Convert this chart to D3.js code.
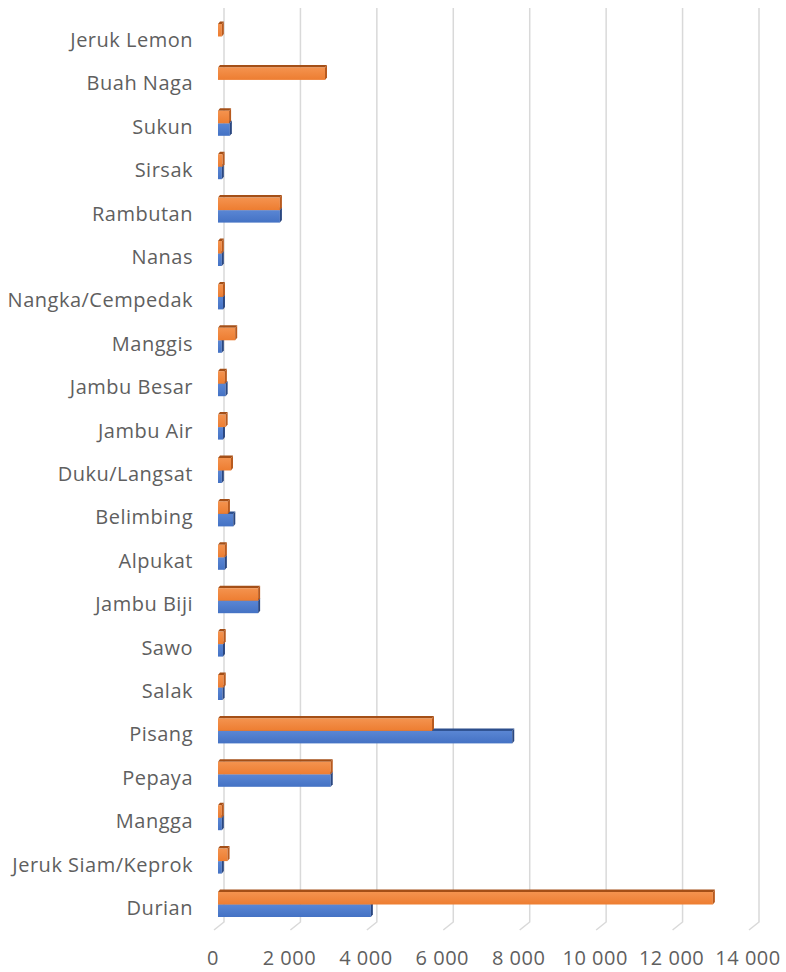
<!DOCTYPE html>
<meta charset="utf-8">
<style>
body { margin: 0; background: #fff; }
svg { display: block; }
.lbl text { font: 20px "Open Sans", sans-serif; fill: #5f5f5f; letter-spacing: 0.5px; }
</style>
<body>
<script src="https://d3js.org/d3.v7.min.js"></script>
<script>
// categories, bottom to top as in the picture
var categories = ["Durian", "Jeruk Siam/Keprok", "Mangga", "Pepaya", "Pisang", "Salak", "Sawo",
  "Jambu Biji", "Alpukat", "Belimbing", "Duku/Langsat", "Jambu Air", "Jambu Besar", "Manggis",
  "Nangka/Cempedak", "Nanas", "Rambutan", "Sirsak", "Sukun", "Buah Naga", "Jeruk Lemon"];

var blueValues =   [4000, 100, 100, 2950, 7700, 120, 130, 1050, 180, 400, 100, 130, 200, 100, 130, 100, 1620, 100, 310, 0, 0];
var orangeValues = [12950, 250, 100, 2950, 5600, 150, 150, 1050, 180, 260, 340, 200, 180, 450, 130, 100, 1620, 120, 290, 2800, 100];

var tickValues = [0, 2000, 4000, 6000, 8000, 10000, 12000, 14000];

var width = 786, height = 972;
var depth = 6; // front of the 3d bars sits left of the back wall

var locale = d3.formatLocale({decimal: ",", thousands: " ", grouping: [3], currency: ["", ""]});
var fmt = locale.format(",d");

var x = d3.scaleLinear().domain([0, 14000]).range([224, 759]);
var y = d3.scaleBand().domain(categories.slice().reverse()).range([18.3, 929.7]);
var inner = d3.scaleBand().domain(["orange", "blue"]).range([-16, 9]);

var styles = {
  blue:   {front: "#4472C4", light: "#5a86d4", top: "#2c4e8c", side: "#2a4780"},
  orange: {front: "#ED7D31", light: "#f4934f", top: "#a44f17", side: "#b85a1e"}
};

var svg = d3.select("body").append("svg")
    .attr("width", width)
    .attr("height", height);

var defs = svg.append("defs");
Object.keys(styles).forEach(function(k) {
  var g = defs.append("linearGradient").attr("id", "g-" + k)
      .attr("x1", 0).attr("y1", 0).attr("x2", 0).attr("y2", 1);
  g.append("stop").attr("offset", "0%").attr("stop-color", styles[k].light);
  g.append("stop").attr("offset", "100%").attr("stop-color", styles[k].front);
});

// gridlines on the back wall with a slanted floor piece
var grid = svg.append("g").attr("class", "grid");
grid.selectAll("path")
    .data(tickValues)
  .enter().append("path")
    .attr("d", function(d) {
      return "M" + x(d) + ",8V922L" + (x(d) - 10) + ",930";
    })
    .attr("fill", "none")
    .attr("stroke", "#d9d9d9")
    .attr("stroke-width", 1.5);

// tick labels
svg.append("g").attr("class", "lbl")
  .selectAll("text")
    .data(tickValues)
  .enter().append("text")
    .attr("x", function(d) { return x(d) - 11; })
    .attr("y", 965)
    .attr("text-anchor", "middle")
    .text(function(d) { return fmt(d); });

// category labels
svg.append("g").attr("class", "lbl")
  .selectAll("text")
    .data(categories)
  .enter().append("text")
    .attr("x", 193)
    .attr("y", function(d) { return y(d) + y.bandwidth() / 2; })
    .attr("dy", "0.35em")
    .attr("text-anchor", "end")
    .text(function(d) { return d; });

function bars(key, values) {
  var st = styles[key];
  var g = svg.append("g").attr("class", "bars " + key);
  var data = categories.map(function(c, i) { return {cat: c, v: values[i]}; })
      .filter(function(d) { return d.v > 0; });
  var item = g.selectAll("g").data(data).enter().append("g");
  var x0 = x(0) - depth;
  function y0(d) { return y(d.cat) + y.bandwidth() / 2 + inner(key); }
  function x1(d) { return Math.max(x(d.v) - depth, x0 + 3); }
  // top face
  item.append("path")
      .attr("d", function(d) {
        var t = y0(d);
        return "M" + x0 + "," + t + "L" + (x0 + 2) + "," + (t - 2.5) +
               "L" + (x1(d) + 2) + "," + (t - 2.5) + "L" + x1(d) + "," + t + "Z";
      })
      .attr("fill", st.top);
  // front face
  item.append("rect")
      .attr("x", x0)
      .attr("y", y0)
      .attr("width", function(d) { return x1(d) - x0; })
      .attr("height", inner.bandwidth())
      .attr("fill", "url(#g-" + key + ")");
  // right face
  item.append("path")
      .attr("d", function(d) {
        var t = y0(d), b = t + inner.bandwidth(), r = x1(d);
        return "M" + r + "," + t + "L" + (r + 2) + "," + (t - 2.5) +
               "L" + (r + 2) + "," + (b - 2.5) + "L" + r + "," + b + "Z";
      })
      .attr("fill", st.side);
}

bars("blue", blueValues);
bars("orange", orangeValues);
</script>
</body>
